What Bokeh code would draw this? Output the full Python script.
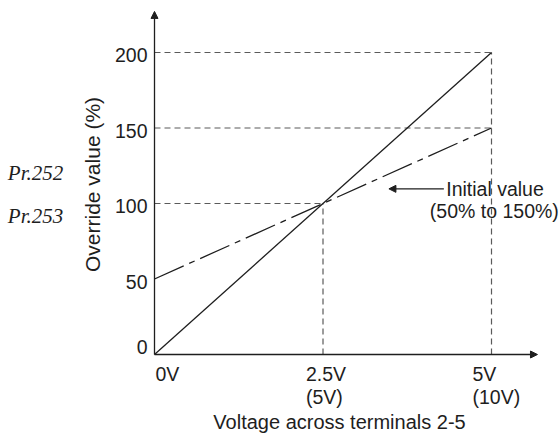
import math
from bokeh.plotting import figure
from bokeh.models import Range1d, Label, Arrow, NormalHead
from bokeh.core.properties import value
from bokeh.embed import file_html
from bokeh.resources import INLINE

# ---- data ----
voltage = [0, 5]                 # x extent (V across terminals 2-5)
override_line = [0, 200]         # solid characteristic (%)
initial_line = [50, 150]         # initial value, dash-dot (%)
y_ticks = [0, 50, 100, 150, 200]
y_tick_labels = ["0", "50", "100", "150", "200"]
x_ticks = [0, 2.5, 5]
x_tick_labels = ["0V", "2.5V", "5V"]
x_tick_sublabels = ["", "(5V)", "(10V)"]
h_guide_levels = [200, 150, 100]
h_guide_ends = [5, 5, 2.5]
v_guide_x = [2.5, 5]
v_guide_tops = [100, 200]

# ---- style / layout ----
SANS = "Liberation Sans"
SERIF = "Liberation Serif"
INK = "#1e1e1e"
GUIDE = "#5a5a5a"
FS = "19.5px"
X_TIP = 5.682     # end of x axis arrow
Y_TIP = 227.2     # end of y axis arrow
DY = 5.0          # baseline correction for labels (data units)

p = figure(width=560, height=434, output_backend="svg", toolbar_location=None,
           x_range=Range1d(-2.2849, 6.0237), y_range=Range1d(-52.98, 234.44),
           x_axis_location=None, y_axis_location=None,
           min_border=0, min_border_left=0, min_border_right=0,
           min_border_top=0, min_border_bottom=0)
p.outline_line_color = None
p.xgrid.visible = False
p.ygrid.visible = False
p.background_fill_color = "white"
p.border_fill_color = "white"

# guide lines
p.segment(x0=[0] * len(h_guide_levels), y0=h_guide_levels, x1=h_guide_ends, y1=h_guide_levels,
          line_color=GUIDE, line_width=1.2, line_dash="6 4")
p.segment(x0=v_guide_x, y0=[0] * len(v_guide_x), x1=v_guide_x, y1=v_guide_tops,
          line_color=GUIDE, line_width=1.2, line_dash="6 4")

# characteristic lines
p.line(voltage, override_line, line_color=INK, line_width=1.3)
p.line(voltage, initial_line, line_color=INK, line_width=1.3, line_dash="32 6 6 6")

# axes drawn as arrows
p.add_layout(Arrow(end=NormalHead(size=7, fill_color=INK, line_color=INK),
                   x_start=0, y_start=0, x_end=0, y_end=Y_TIP,
                   line_color=INK, line_width=1.3))
p.add_layout(Arrow(end=NormalHead(size=7, fill_color=INK, line_color=INK),
                   x_start=0, y_start=0, x_end=X_TIP, y_end=0,
                   line_color=INK, line_width=1.3))

# y tick labels (0 sits on the axis, others just below their level)
p.text(x=[0] * len(y_ticks), y=y_ticks, text=y_tick_labels,
       x_offset=-7, y_offset=[-7.5, 2.5, 2.5, 2.5, 2.5],
       text_align="right", text_baseline="alphabetic",
       text_font=value(SANS), text_font_size=FS, text_color=INK)

# x tick labels (two lines)
p.text(x=x_ticks, y=[0] * len(x_ticks), text=x_tick_labels,
       x_offset=[1, -17, -19], y_offset=19.2,
       text_align="left", text_baseline="alphabetic",
       text_font=value(SANS), text_font_size=FS, text_color=INK)
p.text(x=x_ticks, y=[0] * len(x_ticks), text=x_tick_sublabels,
       x_offset=[1, -17, -19], y_offset=42.0,
       text_align="left", text_baseline="alphabetic",
       text_font=value(SANS), text_font_size=FS, text_color=INK)

# axis titles
p.add_layout(Label(x=2.745, y=-49.9 + DY, text="Voltage across terminals 2-5",
                   text_align="center", text_baseline="alphabetic",
                   text_font=SANS, text_font_size="20px", text_color=INK))
p.add_layout(Label(x=-0.927, y=112.6, text="Override value (%)", angle=math.pi / 2,
                   text_align="center", text_baseline="middle",
                   text_font=SANS, text_font_size="21px", text_color=INK))

# parameter labels
for txt, yy in (("Pr.252", 115.0), ("Pr.253", 87.0)):
    p.add_layout(Label(x=-2.176, y=yy + DY, text=txt, text_font=SERIF,
                       text_font_style="italic", text_font_size="21px",
                       text_color=INK, text_baseline="alphabetic"))

# annotation
p.add_layout(Arrow(end=NormalHead(size=7, fill_color=INK, line_color=INK),
                   x_start=4.293, y_start=109.7, x_end=3.478, y_end=109.7,
                   line_color=INK, line_width=1.2))
p.add_layout(Label(x=4.328, y=104.6 + DY, text="Initial value", text_font=SANS,
                   text_font_size=FS, text_color=INK, text_baseline="alphabetic"))
p.add_layout(Label(x=4.085, y=90.1 + DY, text="(50% to 150%)", text_font=SANS,
                   text_font_size=FS, text_color=INK, text_baseline="alphabetic"))

open("out.html", "w").write(file_html(p, INLINE))
